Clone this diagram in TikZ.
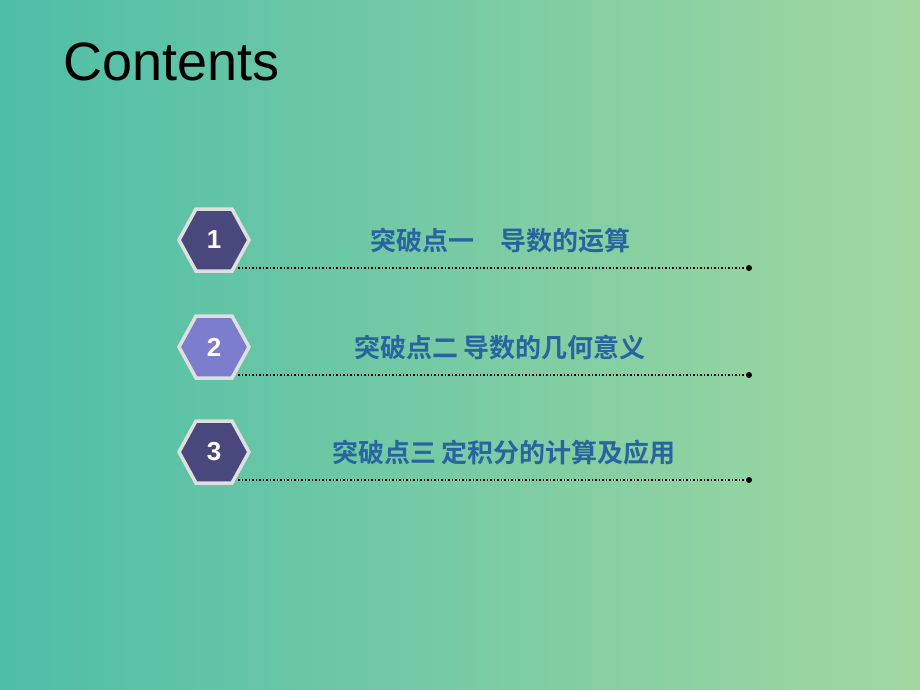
\documentclass[tikz,border=0pt]{standalone}
\usepackage{fontspec}
\setmainfont{Liberation Sans}
\newfontfamily\cjk{Noto Sans CJK SC Bold}
\begin{document}
\begin{tikzpicture}[x=1pt,y=-1pt,
  lab/.style={font=\cjk\fontsize{26}{30}\selectfont,text={rgb,255:red,40;green,100;blue,160},anchor=center},
  num/.style={font=\bfseries\fontsize{26}{30}\selectfont,text=white}]
\shade[left color={rgb,255:red,78;green,190;blue,168},right color={rgb,255:red,162;green,216;blue,160}] (0,0) rectangle (920,690);
\useasboundingbox (0,0) rectangle (920,690);
\node[anchor=west,font=\fontsize{54}{60}\selectfont,inner sep=0pt] (title) at (63,62) {Contents};
\def\hex#1#2#3#4#5#6{%
  \fill[#4,draw=gray!25,line width=3.5pt] (#1-35,#2) -- (#1-18,#2-31) -- (#1+18,#2-31) -- (#1+35,#2) -- (#1+18,#2+31) -- (#1-18,#2+31) -- cycle;
  \node[num] (n#3) at (#1,#2) {#3};
  \coordinate (s#3) at (#1+24,#2+28);
  \coordinate (e#3) at (749,#2+28);
  \draw[line width=2pt,dash pattern=on 1.5pt off 2pt] (s#3) -- (e#3);
  \fill (e#3) circle (3pt);
  \node[lab] (t#3) at (#6,#2+1) {#5};}
\definecolor{hA}{RGB}{72,72,125}
\definecolor{hB}{RGB}{125,125,205}
\hex{214}{240}{1}{hA}{突破点一\quad 导数的运算}{500}
\hex{214}{347}{2}{hB}{突破点二 导数的几何意义}{500}
\hex{214}{452}{3}{hA}{突破点三 定积分的计算及应用}{504}
\end{tikzpicture}
\end{document}
